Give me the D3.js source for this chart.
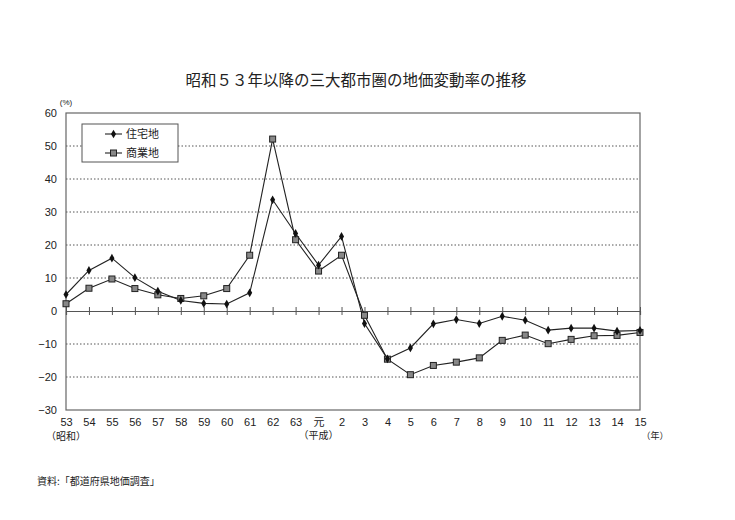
<!DOCTYPE html>
<html>
<head>
<meta charset="utf-8">
<script src="https://cdn.jsdelivr.net/npm/d3@7"></script>
<style>
  body { margin: 0; background: #fff; }
  text { font-family: "Liberation Sans", Arial, sans-serif; fill: #222; }
  .jp { font-family: "Noto Sans CJK JP", sans-serif; }
</style>
</head>
<body>
<div id="vis"></div>
<script>
'use strict'

// years (showa 53 .. heisei 15)
const years = ['53','54','55','56','57','58','59','60','61','62','63','元','2','3','4','5','6','7','8','9','10','11','12','13','14','15']
const residential = [5.0, 12.3, 16.0, 10.1, 6.0, 3.2, 2.3, 2.1, 5.5, 33.7, 23.5, 13.9, 22.6, -3.8, -14.5, -11.2, -3.9, -2.6, -3.8, -1.6, -2.8, -5.8, -5.2, -5.2, -6.1, -5.9]
const commercial = [2.2, 6.9, 9.7, 6.8, 4.9, 3.8, 4.6, 6.8, 16.9, 52.1, 21.6, 12.1, 16.9, -1.3, -14.6, -19.3, -16.5, -15.5, -14.2, -8.9, -7.3, -9.9, -8.6, -7.5, -7.4, -6.5]
const yTicks = [60, 50, 40, 30, 20, 10, 0, -10, -20, -30]
const seriesNames = ['住宅地', '商業地']

function wrapper(){
  let width = 735
  let height = 520
  let left = 66, right = 640, top = 113, bottom = 410

  let svg = d3.select("#vis").append("svg")
    .attr("width", width)
    .attr("height", height)

  let x = d3.scalePoint().domain(years).range([left, right])
  let y = d3.scaleLinear().domain([-30, 60]).range([bottom, top])

  // title
  svg.append("text")
    .attr("class", "jp")
    .attr("x", 356).attr("y", 86)
    .attr("text-anchor", "middle")
    .style("font-size", "15.5px")
    .text("昭和５３年以降の三大都市圏の地価変動率の推移")

  // gridlines (dotted)
  svg.append("g").selectAll("line")
    .data(yTicks.filter(d => d != 60 && d != -30 && d != 0))
    .join("line")
    .attr("x1", left).attr("x2", right)
    .attr("y1", d => y(d)).attr("y2", d => y(d))
    .attr("stroke", "#555")
    .attr("stroke-width", 1)
    .attr("stroke-dasharray", "1.5,2")

  // frame
  svg.append("rect")
    .attr("x", left).attr("y", top)
    .attr("width", right - left).attr("height", bottom - top)
    .attr("fill", "none")
    .attr("stroke", "#666")
    .attr("stroke-width", 1.2)

  // y axis
  let yAxis = svg.append("g")
    .attr("transform", "translate(" + left + ",0)")
    .call(d3.axisLeft(y).tickValues(yTicks).tickSize(0).tickPadding(9))
  yAxis.select(".domain").remove()
  yAxis.selectAll("text")
    .style("font-size", "11px")
    .style("font-family", "'Liberation Sans', Arial, sans-serif")
    .attr("fill", "#222")

  // zero line with ticks crossing
  let xAxis = svg.append("g")
    .attr("transform", "translate(0," + y(0) + ")")
    .call(d3.axisBottom(x).tickSize(4).tickFormat(""))
  xAxis.select(".domain").attr("stroke", "#555").attr("stroke-width", 1.2)
  xAxis.selectAll(".tick line").attr("y1", -4).attr("stroke", "#555")

  // x labels at bottom
  let xLab = svg.append("g")
    .attr("transform", "translate(0," + bottom + ")")
    .call(d3.axisBottom(x).tickSize(0).tickPadding(8))
  xLab.select(".domain").remove()
  xLab.selectAll("text")
    .style("font-size", "11px")
    .style("font-family", "'Liberation Sans', 'Noto Sans CJK JP', Arial, sans-serif")
    .attr("fill", "#222")

  svg.append("text").attr("class", "jp")
    .attr("x", x('53')).attr("y", 440)
    .attr("text-anchor", "middle").style("font-size", "10px")
    .text("（昭和）")
  svg.append("text").attr("class", "jp")
    .attr("x", x('元')).attr("y", 439)
    .attr("text-anchor", "middle").style("font-size", "10px")
    .text("（平成）")
  svg.append("text").attr("class", "jp")
    .attr("x", 655).attr("y", 439)
    .attr("text-anchor", "middle").style("font-size", "9px")
    .text("（年）")
  svg.append("text")
    .attr("x", 66).attr("y", 105)
    .attr("text-anchor", "middle").style("font-size", "8px")
    .text("(%)")

  // lines
  let line = d3.line()
    .x((d, i) => x(years[i]))
    .y(d => y(d))

  svg.append("path").datum(commercial)
    .attr("d", line).attr("fill", "none")
    .attr("stroke", "#222").attr("stroke-width", 1.1)
  svg.append("path").datum(residential)
    .attr("d", line).attr("fill", "none")
    .attr("stroke", "#222").attr("stroke-width", 1.1)

  let diamond = d3.symbol().type(d3.symbolDiamond).size(22)

  svg.append("g").selectAll("rect")
    .data(commercial)
    .join("rect")
    .attr("x", (d, i) => x(years[i]) - 3)
    .attr("y", d => y(d) - 3)
    .attr("width", 6).attr("height", 6)
    .attr("fill", "#888").attr("stroke", "#222").attr("stroke-width", 1)

  svg.append("g").selectAll("path")
    .data(residential)
    .join("path")
    .attr("d", diamond)
    .attr("transform", (d, i) => "translate(" + x(years[i]) + "," + y(d) + ")")
    .attr("fill", "#111")

  // legend
  let lg = svg.append("g")
  lg.append("rect")
    .attr("x", 82).attr("y", 124)
    .attr("width", 96).attr("height", 38)
    .attr("fill", "#fff").attr("stroke", "#555").attr("stroke-width", 1)

  seriesNames.forEach(function(name, i){
    let cy = 134 + i * 19
    lg.append("line")
      .attr("x1", 105).attr("x2", 122)
      .attr("y1", cy).attr("y2", cy)
      .attr("stroke", "#222").attr("stroke-width", 1.1)
    if (i == 0){
      lg.append("path").attr("d", diamond)
        .attr("transform", "translate(113.5," + cy + ")")
        .attr("fill", "#111")
    } else {
      lg.append("rect")
        .attr("x", 110.5).attr("y", cy - 3)
        .attr("width", 6).attr("height", 6)
        .attr("fill", "#888").attr("stroke", "#222")
    }
    lg.append("text").attr("class", "jp")
      .attr("x", 126).attr("y", cy + 4)
      .style("font-size", "11px")
      .text(name)
  })

  // source
  svg.append("text").attr("class", "jp")
    .attr("x", 37).attr("y", 485)
    .style("font-size", "10px")
    .text("資料:「都道府県地価調査」")
}

wrapper()
</script>
</body>
</html>
